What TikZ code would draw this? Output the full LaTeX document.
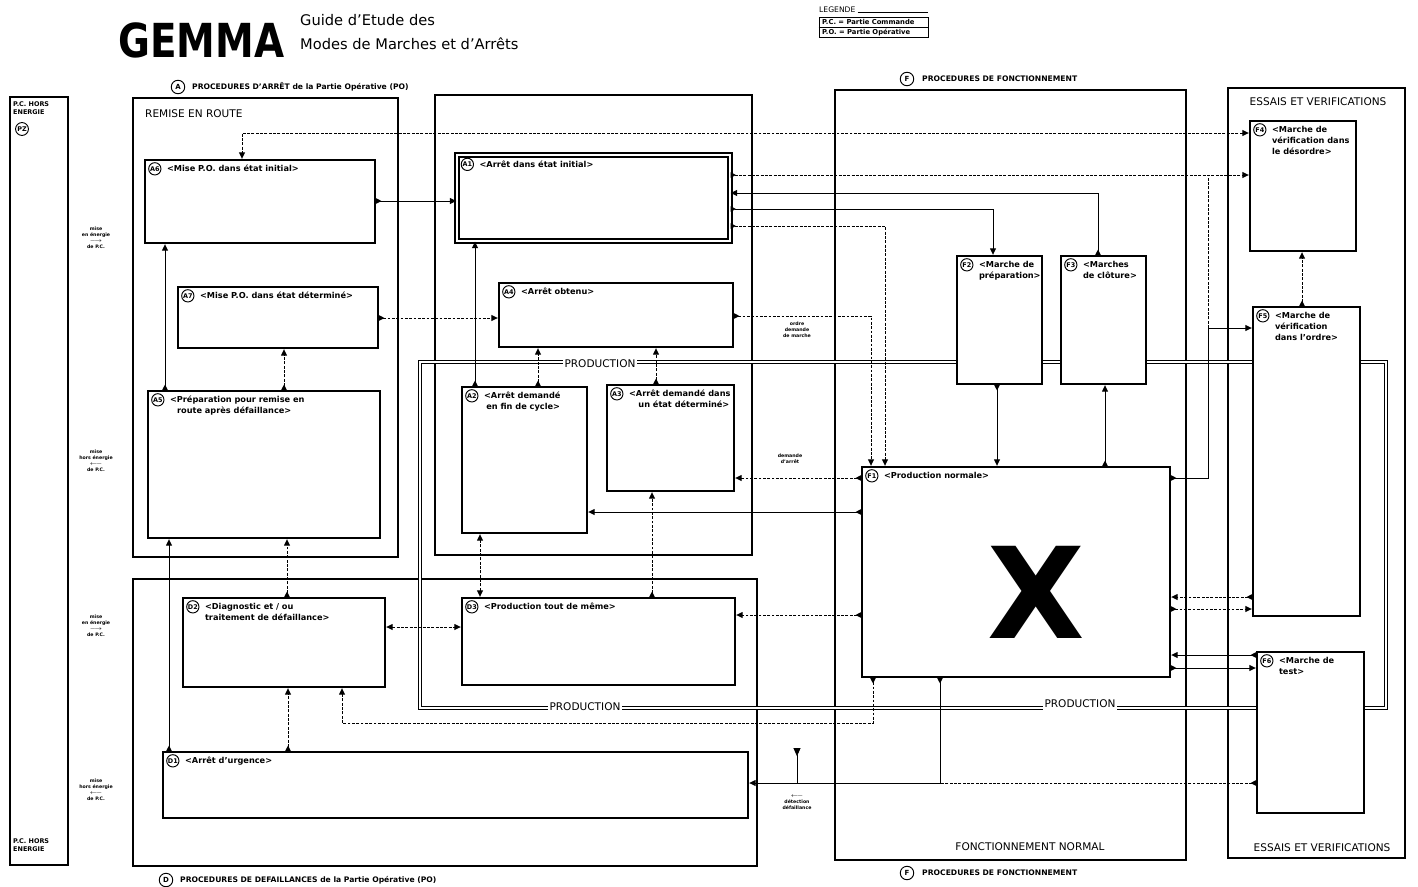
\documentclass[tikz,border=0pt]{standalone}
\usepackage{fontspec}
\setmainfont{DejaVu Sans}
\usepackage{graphicx}
\usetikzlibrary{arrows.meta,fit}
\tikzset{
  cadre/.style={draw, line width=0.9pt, inner sep=0pt},
  etat/.style={draw, line width=2pt, fill=white, inner sep=0pt},
  num/.style={circle, draw, line width=0.8pt, inner sep=0.3pt, minimum size=10.5pt, font=\fontsize{5.5}{5.5}\selectfont\bfseries},
  txt/.style={anchor=north west, inner sep=0pt, align=left, font=\fontsize{7}{9.5}\selectfont\bfseries},
  note/.style={inner sep=0pt, align=center, font=\fontsize{4}{5.2}\selectfont\bfseries},
  sect/.style={anchor=west, inner sep=0pt, font=\fontsize{6.5}{6.5}\selectfont\bfseries},
  zone/.style={inner sep=0pt, font=\fontsize{9}{9}\selectfont},
  prodtxt/.style={fill=white, inner sep=1.5pt, font=\fontsize{9}{9}\selectfont},
  prod/.style={double, double distance=1.6pt, line width=0.5pt},
  fl/.style={{Triangle[reversed,length=4.5pt,width=4.5pt]}-{Triangle[length=5.5pt,width=5pt]}, line width=0.8pt},
  fld/.style={fl, dash pattern=on 2.5pt off 1.2pt},
  fl2/.style={{Triangle[length=5.5pt,width=5pt]}-{Triangle[length=5.5pt,width=5pt]}, line width=0.8pt, dash pattern=on 2.5pt off 1.2pt},
  trait/.style={line width=0.8pt},
  traitd/.style={trait, dash pattern=on 2.5pt off 1.2pt},
}

\begin{document}
\begin{tikzpicture}[x=0.03cm, y=-0.03cm]
  \fill[white] (0,0) rectangle (1418,886);
  \useasboundingbox (0,0) rectangle (1418,886);

  % titre et legende
  \node[anchor=west, inner sep=0pt, font=\fontsize{40}{40}\selectfont\bfseries] (titre) at (118,40) {\scalebox{0.83}[1]{GEMMA}};
  \node[anchor=west, inner sep=0pt, align=left, font=\fontsize{12.5}{21}\selectfont] (soustitre) at (300,32) {Guide d'Etude des\\Modes de Marches et d'Arrêts};
  \node[anchor=west, inner sep=0pt, font=\fontsize{6.5}{6.5}\selectfont] (leg) at (819,10) {LEGENDE};
  \draw[line width=0.6pt] (leg.east) ++(2,2) -- (928,12);
  \node[cadre, line width=0.6pt, fit={(819,17) (928,37)}] (legbox) {};
  \draw[line width=0.5pt] (legbox.west) -- (legbox.east);
  \node[anchor=west, inner sep=0pt, font=\fontsize{5.8}{5.8}\selectfont\bfseries] (legPC) at (822,22) {P.C. = Partie Commande};
  \node[anchor=west, inner sep=0pt, font=\fontsize{5.8}{5.8}\selectfont\bfseries] (legPO) at (822,32) {P.O. = Partie Opérative};

  % zones
  \node[cadre, fit={(10,97) (68,865)}] (zPC) {};
  \node[cadre, fit={(133,98) (398,557)}] (zRR) {};
  \node[cadre, fit={(435,95) (752,555)}] (zAR) {};
  \node[cadre, fit={(133,579) (757,866)}] (zDF) {};
  \node[cadre, fit={(835,90) (1186,860)}] (zFN) {};
  \node[cadre, fit={(1228,88) (1405,858)}] (zEV) {};

  \node[num, minimum size=11.5pt, font=\fontsize{6}{6}\selectfont\bfseries] (cA) at (178,87) {A};
  \node[sect] (sA) at (192,87) {PROCEDURES D'ARRÊT de la Partie Opérative (PO)};
  \node[num, minimum size=11.5pt, font=\fontsize{6}{6}\selectfont\bfseries] (cF1) at (907,79) {F};
  \node[sect] (sF1) at (922,79) {PROCEDURES DE FONCTIONNEMENT};
  \node[num, minimum size=11.5pt, font=\fontsize{6}{6}\selectfont\bfseries] (cD) at (166,880) {D};
  \node[sect] (sD) at (180,880) {PROCEDURES DE DEFAILLANCES de la Partie Opérative (PO)};
  \node[num, minimum size=11.5pt, font=\fontsize{6}{6}\selectfont\bfseries] (cF2) at (907,873) {F};
  \node[sect] (sF2) at (922,873) {PROCEDURES DE FONCTIONNEMENT};

  % boucle production
  \draw[prod] (420,362) rectangle (1386,708);

  % etats
  \node[etat, fit={(145,160) (375,243)}] (A6) {};
  \node[etat, fit={(178,287) (378,348)}] (A7) {};
  \node[etat, fit={(148,391) (380,538)}] (A5) {};
  \node[etat, double, double distance=2.2pt, line width=1.1pt, fit={(457,155) (730,241)}] (A1) {};
  \node[etat, fit={(499,283) (733,347)}] (A4) {};
  \node[etat, fit={(462,387) (587,533)}] (A2) {};
  \node[etat, fit={(607,385) (734,491)}] (A3) {};
  \node[etat, fit={(183,598) (385,687)}] (D2) {};
  \node[etat, fit={(462,598) (735,685)}] (D3) {};
  \node[etat, fit={(163,752) (748,818)}] (D1) {};
  \node[etat, fit={(957,256) (1042,384)}] (F2) {};
  \node[etat, fit={(1061,256) (1146,384)}] (F3) {};
  \node[etat, fit={(862,467) (1170,677)}] (F1) {};
  \node[etat, fit={(1250,121) (1356,251)}] (F4) {};
  \node[etat, fit={(1253,307) (1360,616)}] (F5) {};
  \node[etat, fit={(1257,652) (1364,813)}] (F6) {};

  \foreach \b/\t in {A6/{<Mise P.O. dans état initial>}, A7/{<Mise P.O. dans état déterminé>},
      A5/{<Préparation pour remise en\\\hspace*{6pt}route après défaillance>}, A1/{<Arrêt dans état initial>},
      A4/{<Arrêt obtenu>}, A2/{<Arrêt demandé\\\hspace*{2pt}en fin de cycle>}, A3/{<Arrêt demandé dans\\\hspace*{8pt}un état déterminé>},
      D2/{<Diagnostic et / ou\\traitement de défaillance>}, D3/{<Production tout de même>}, D1/{<Arrêt d'urgence>},
      F2/{<Marche de\\préparation>}, F3/{<Marches\\de clôture>}, F1/{<Production normale>},
      F4/{<Marche de\\vérification dans\\le désordre>}, F5/{<Marche de\\vérification\\dans l'ordre>}, F6/{<Marche de\\test>}}{
    \node[num] (n\b) at ([shift={(11,10)}]\b.north west) {\b};
    \node[txt] (t\b) at ([shift={(23,6)}]\b.north west) {\t};
  }
  \node[inner sep=0pt, font=\fontsize{108}{108}\selectfont\bfseries] (croix) at (1036,592) {X};

  % liaisons
  \coordinate (jD) at (940,783);
  \coordinate (jV) at (1208,328);
  \coordinate (det) at (797,748);
  \draw[fl2] (F4.west |- 0,133) -| (A6.north -| 242,0);
  \draw[fl] (A6.east |- 0,201) -- (A1.west |- 0,201);
  \draw[fld] (A7.east |- 0,318) -- (A4.west |- 0,318);
  \draw[fl] (A5.north -| 165,0) -- (A6.south -| 165,0);
  \draw[fld] (A5.north -| 284,0) -- (A7.south -| 284,0);
  \draw[fl] (D1.north -| 169,0) -- (A5.south -| 169,0);
  \draw[fld] (D2.north -| 287,0) -- (A5.south -| 287,0);
  \draw[fld] (D1.north -| 288,0) -- (D2.south -| 288,0);
  \draw[fl] (A2.north -| 475,0) -- (A1.south -| 475,0);
  \draw[fld] (A2.north -| 538,0) -- (A4.south -| 538,0);
  \draw[fld] (A3.north -| 656,0) -- (A4.south -| 656,0);
  \draw[fl2] (D3.north -| 480,0) -- (A2.south -| 480,0);
  \draw[fld] (D3.north -| 652,0) -- (A3.south -| 652,0);
  \draw[fl2] (D2.east |- 0,627) -- (D3.west |- 0,627);
  \draw[fld] (F1.west |- 0,615) -- (D3.east |- 0,615);
  \draw[fld] (F1.west |- 0,478) -- (A3.east |- 0,478);
  \draw[fl] (F1.west |- 0,512) -- (A2.east |- 0,512);
  \draw[fld] (F1.south -| 873,0) -- ++(0,45) -| (D2.south -| 342,0);
  \draw[traitd, {Triangle[reversed,length=4.5pt,width=4.5pt]}-] (F6.west |- jD) -- (jD);
  \draw[fl] (F1.south -| jD) -- (jD) -- (D1.east |- jD);
  \draw[trait, {Triangle[reversed,length=7pt,width=6pt]}-] (det) -- (det |- jD);
  \draw[fl] (F2.south -| 997,0) -- (F1.north -| 997,0);
  \draw[fl] (F1.north -| 1105,0) -- (F3.south -| 1105,0);
  \draw[fl] (A1.east |- 0,209) -| (F2.north -| 993,0);
  \draw[fl] (F3.north -| 1098,0) |- (A1.east |- 0,193);
  \draw[fld] (A1.east |- 0,226) -| (F1.north -| 885,0);
  \draw[fld] (A4.east |- 0,316) -| (F1.north -| 871,0);
  \draw[fld] (A1.east |- 0,175) -- (F4.west |- 0,175);
  \draw[fl] (F1.east |- 0,478) -| (jV) -- (F5.west |- jV);
  \draw[traitd] (jV) -- (jV |- 0,175);
  \draw[fld] (F5.north -| 1302,0) -- (F4.south -| 1302,0);
  \draw[fld] (F5.west |- 0,597) -- (F1.east |- 0,597);
  \draw[fld] (F1.east |- 0,609) -- (F5.west |- 0,609);
  \draw[fl] (F6.west |- 0,655) -- (F1.east |- 0,655);
  \draw[fl] (F1.east |- 0,668) -- (F6.west |- 0,668);

  % textes
  \node[txt, font=\fontsize{5.5}{7}\selectfont\bfseries] (lPC1) at (13,101) {P.C. HORS\\ENERGIE};
  \node[num, minimum size=11pt] (cPZ) at (22,129) {PZ};
  \node[txt, font=\fontsize{5.5}{7}\selectfont\bfseries] (lPC2) at (13,838) {P.C. HORS\\ENERGIE};
  \node[note] (me1) at (96,238) {mise\\en énergie\\$\longrightarrow$\\de P.C.};
  \node[note] (mh1) at (96,461) {mise\\hors énergie\\$\longleftarrow$\\de P.C.};
  \node[note] (me2) at (96,626) {mise\\en énergie\\$\longrightarrow$\\de P.C.};
  \node[note] (mh2) at (96,790) {mise\\hors énergie\\$\longleftarrow$\\de P.C.};
  \node[note] (dm) at (797,330) {ordre\\demande\\de marche};
  \node[note] (da) at (790,459) {demande\\d'arrêt};
  \node[note] (dd) at (797,802) {$\longleftarrow$\\détection\\défaillance};
  \node[zone, anchor=west] (lRR) at (145,114) {REMISE EN ROUTE};
  \node[zone] (lEV1) at (1318,102) {ESSAIS ET VERIFICATIONS};
  \node[zone] (lEV2) at (1322,848) {ESSAIS ET VERIFICATIONS};
  \node[zone] (lFN) at (1030,847) {FONCTIONNEMENT NORMAL};
  \node[prodtxt] (p1) at (600,364) {PRODUCTION};
  \node[prodtxt] (p2) at (585,707) {PRODUCTION};
  \node[prodtxt] (p3) at (1080,704) {PRODUCTION};
\end{tikzpicture}
\end{document}
